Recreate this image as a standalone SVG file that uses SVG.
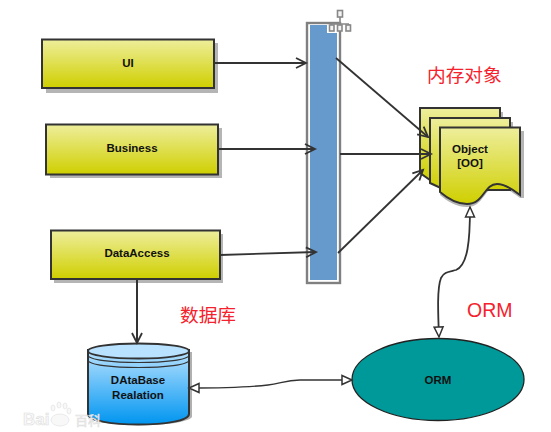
<svg xmlns="http://www.w3.org/2000/svg" width="551" height="432" viewBox="0 0 551 432">
<style>
.box{stroke:#333;stroke-width:2;fill:url(#yg)}
.sh{fill:#b5b5b5}
.t{font-family:"Liberation Sans",Arial,sans-serif;font-size:11.5px;font-weight:bold;fill:#111;text-anchor:middle}
.red{font-family:"Noto Sans CJK SC","Noto Sans",sans-serif;font-size:18.700px;fill:#f5222d}
.c{fill:none;stroke:#333;stroke-width:1.800}
</style>
<defs>
<linearGradient id="yg" x1="0" y1="0" x2="0" y2="1"><stop offset="0" stop-color="#eeee9c"/><stop offset="1" stop-color="#cfcf00"/></linearGradient>
<linearGradient id="bg" x1="0" y1="0" x2="0" y2="1"><stop offset="0" stop-color="#b8e2ff"/><stop offset="1" stop-color="#0095f0"/></linearGradient>
<marker id="open" markerUnits="userSpaceOnUse" markerWidth="14" markerHeight="14" refX="11" refY="6" orient="auto"><path d="M1 1L11 6L1 11" fill="none" stroke="#333" stroke-width="1.800"/></marker>
<marker id="tri" markerUnits="userSpaceOnUse" markerWidth="14" markerHeight="14" refX="11" refY="6" orient="auto-start-reverse"><path d="M1 1.500L11 6L1 10.500Z" fill="#fff" stroke="#333" stroke-width="1.500"/></marker>
</defs>
<rect width="551" height="432" fill="#fff"/>

<g id="ui"><rect class="sh" x="46" y="43" width="172" height="50"/><rect class="box" x="42" y="39.500" width="172" height="48.500"/><text class="t" x="128" y="67">UI</text></g>
<g id="business"><rect class="sh" x="50" y="128" width="172" height="50"/><rect class="box" x="46" y="124.500" width="172" height="50"/><text class="t" x="132" y="152">Business</text></g>
<g id="dataaccess"><rect class="sh" x="54" y="234" width="169" height="49"/><rect class="box" x="51" y="230.500" width="169" height="48.500"/><text class="t" x="137" y="257">DataAccess</text></g>

<g id="bar">
<rect x="307" y="23" width="33" height="260" fill="#fff" stroke="#808080" stroke-width="2.400"/>
<path d="M310 25H327V33H337V280H310Z" fill="#6699cc"/>
<g fill="#f4f4f4" stroke="#888" stroke-width="1.600">
<path d="M340 17V24M331 24H349M331 24V26M340 24V26M349 24V26" fill="none"/>
<rect x="337.500" y="10.500" width="5" height="6.500"/>
<rect x="329.500" y="25" width="4.500" height="6"/>
<rect x="337.500" y="25" width="4.500" height="6"/>
<rect x="346" y="25" width="4.500" height="6"/>
</g>
</g>

<g id="object">
<path class="sh" d="M500 112H503V131H500Z"/>
<path class="sh" d="M510 122H513V131H510Z"/>
<path class="sh" d="M520 131H524V198L520 198C511 191 504 187 497 187C484 187 484 207 467 207C456 207 447 201 440 195L452 150Z"/>
<path class="box" d="M420 108H500V180H430L420 173Z"/>
<path class="box" d="M430 118H510V190H445L430 183Z"/>
<path class="box" d="M440 127.500H520V195C511 188 504 184 497 184C484 184 484 204 467 204C456 204 447 198 440 192Z"/>
<text class="t" x="470" y="153">Object</text>
<text class="t" x="470" y="167">[OO]</text>
</g>

<g id="database">
<path d="M91 352V417C95 428 184 428 192 417V352Z" fill="#b0b0b0"/>
<path d="M88 350V414C88 428 189 428 189 414V350Z" fill="url(#bg)" stroke="#333" stroke-width="2"/>
<ellipse cx="138.500" cy="351" rx="50.500" ry="7.500" fill="#b8e2ff" stroke="#333" stroke-width="1.800"/>
<path d="M88 355C88 365 189 365 189 355M88 360C88 370 189 370 189 360" fill="none" stroke="#333" stroke-width="1.200"/>
<text class="t" x="138" y="384">DAtaBase</text>
<text class="t" x="138" y="399">Realation</text>
</g>

<g id="orm">
<ellipse cx="438" cy="379.500" rx="86" ry="41" fill="#009999" stroke="#222" stroke-width="1.300"/>
<text class="t" x="438" y="384">ORM</text>
</g>

<g id="connectors">
<path class="c" d="M214 63H306" marker-end="url(#open)"/>
<path class="c" d="M218 149H315" marker-end="url(#open)"/>
<path class="c" d="M220 255L316 252" marker-end="url(#open)"/>
<path class="c" d="M336 58L428 137" marker-end="url(#open)"/>
<path class="c" d="M340 154H431" marker-end="url(#open)"/>
<path class="c" d="M338 253L423 170" marker-end="url(#open)"/>
<path class="c" style="stroke-width:2" d="M137 279V343" marker-end="url(#open)"/>
<path class="c" style="stroke-width:1.400" d="M189 388C225 388 250 387 268 385C280 384 285 380 300 380C320 380 335 380 352 380" marker-start="url(#tri)" marker-end="url(#tri)"/>
<path class="c" d="M470 207C470 240 468 265 456 270C448 272 444 272 441 278C437 288 438 312 439 337" marker-start="url(#tri)" marker-end="url(#tri)"/>
</g>

<g id="labels">
<text class="red" x="427" y="82">内存对象</text>
<text class="red" x="180" y="322">数据库</text>
<text class="red" x="467" y="317" style="font-family:'Liberation Sans',sans-serif;font-size:19.500px">ORM</text>
<g fill="#f8f8f8" stroke="#dedede" stroke-width=".6">
<text x="23" y="425" style="font-family:'Liberation Sans',sans-serif;font-size:17px;font-weight:bold">Bai</text>
<ellipse cx="53" cy="408" rx="2" ry="3"/><ellipse cx="59" cy="405" rx="2" ry="3"/><ellipse cx="65" cy="406" rx="2" ry="3"/><ellipse cx="69" cy="411" rx="2" ry="3"/>
<ellipse cx="60" cy="420" rx="9" ry="6"/>
<text x="75" y="425" style="font-family:'Noto Sans CJK SC',sans-serif;font-size:13px">百科</text>
</g>
</g>
</svg>
